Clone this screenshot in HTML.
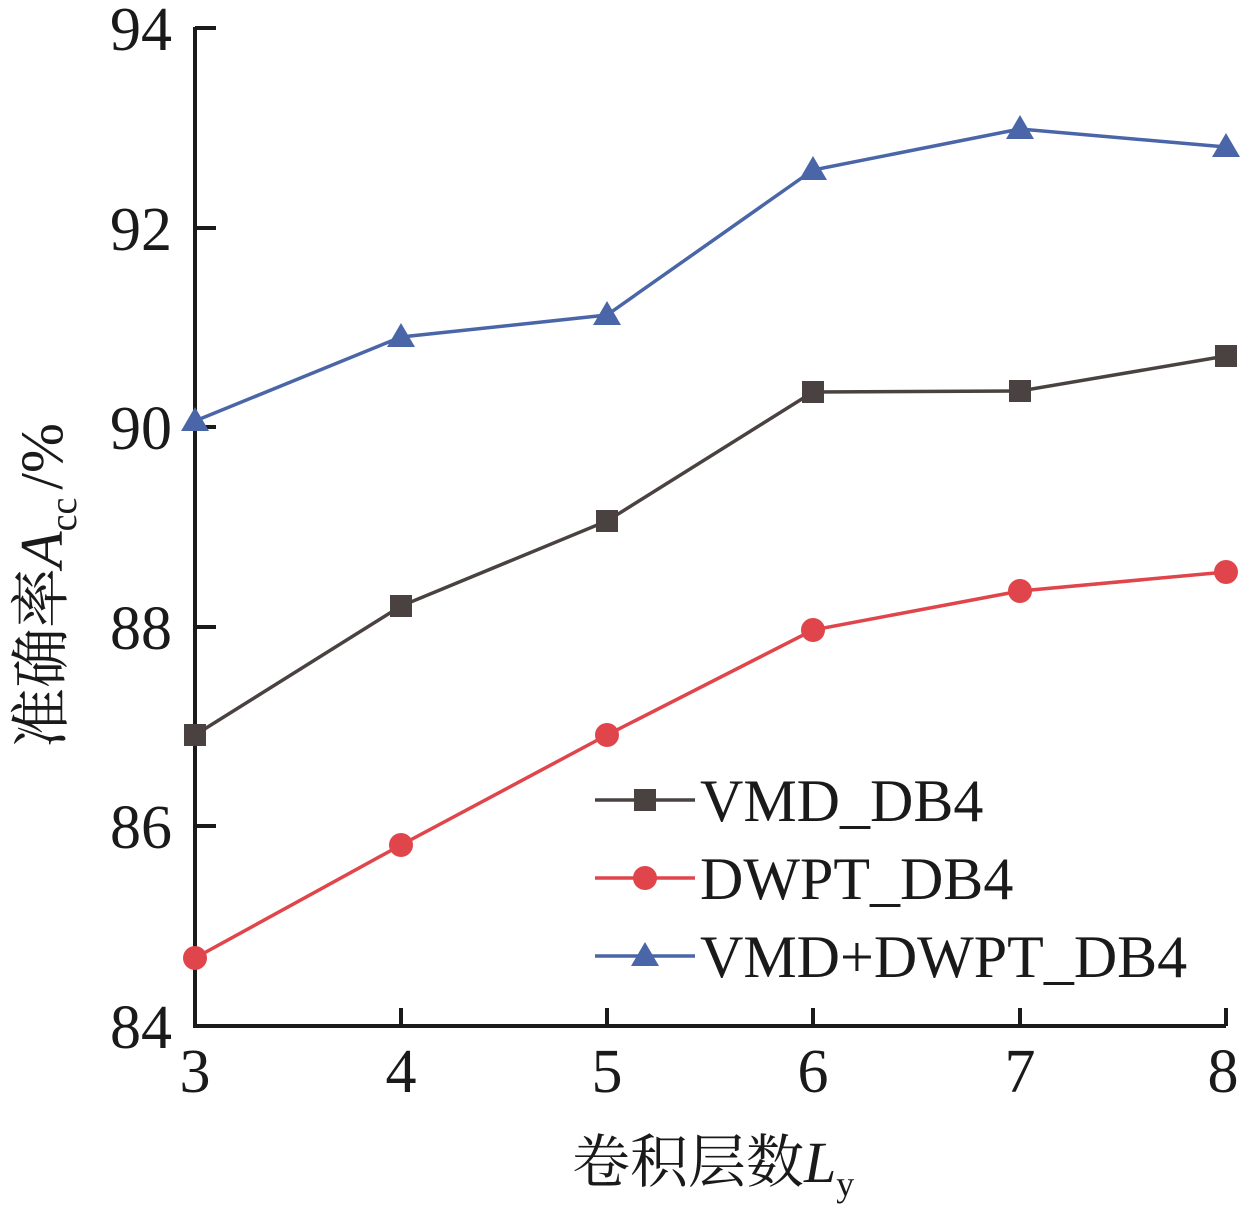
<!DOCTYPE html>
<html><head><meta charset="utf-8"><style>body{margin:0;background:#fff}</style></head><body>
<svg width="1243" height="1220" xmlns="http://www.w3.org/2000/svg" font-family="'Liberation Serif','Noto Serif CJK SC',serif">
<rect width="1243" height="1220" fill="#fff"/>
<g stroke="#1a1a1a" stroke-width="4" fill="none">
<path d="M195 27 V1026 H1226"/>
<path d="M195 28 H216 M195 228 H216 M195 427 H216 M195 627 H216 M195 826 H216"/>
<path d="M401 1026 V1008 M607 1026 V1008 M813 1026 V1008 M1020 1026 V1008 M1226 1026 V1008"/>
</g>
<g font-size="62" fill="#1a1a1a" text-anchor="end">
<text x="172" y="50">94</text><text x="172" y="250">92</text><text x="172" y="449">90</text>
<text x="172" y="649">88</text><text x="172" y="848">86</text><text x="172" y="1048">84</text>
</g>
<g font-size="62" fill="#1a1a1a" text-anchor="middle">
<text x="195" y="1092">3</text><text x="401" y="1092">4</text><text x="607" y="1092">5</text>
<text x="813" y="1092">6</text><text x="1020" y="1092">7</text><text x="1223" y="1092">8</text>
</g>
<text x="572" y="1182" font-size="58" fill="#1a1a1a">卷积层数<tspan font-style="italic" font-family="'Liberation Serif',serif">L</tspan><tspan font-size="36" dy="14">y</tspan></text>
<text transform="translate(62,748) rotate(-90)" font-size="60" fill="#1a1a1a">准确率<tspan font-style="italic" font-family="'Liberation Serif',serif">A</tspan><tspan font-size="38" dy="14">cc</tspan><tspan dy="-14" dx="8">/%</tspan></text>
<g fill="none" stroke-width="3.5">
<polyline stroke="#4a4240" points="195,735 401,606 607,521 813,392 1020,391 1226,356"/>
<polyline stroke="#e0454b" points="195,958 401,845 607,735 813,630 1020,591 1226,572"/>
<polyline stroke="#4a66a8" points="195,421 401,337 607,315 813,170 1020,129 1226,147"/>
</g>
<g fill="#4a4240">
<rect x="184" y="724" width="22" height="22"/><rect x="390" y="595" width="22" height="22"/><rect x="596" y="510" width="22" height="22"/>
<rect x="802" y="381" width="22" height="22"/><rect x="1009" y="380" width="22" height="22"/><rect x="1215" y="345" width="22" height="22"/>
</g>
<g fill="#e0454b">
<circle cx="195" cy="958" r="12"/><circle cx="401" cy="845" r="12"/><circle cx="607" cy="735" r="12"/>
<circle cx="813" cy="630" r="12"/><circle cx="1020" cy="591" r="12"/><circle cx="1226" cy="572" r="12"/>
</g>
<g fill="#4a66a8">
<path d="M195 407 l14 24 h-28z"/><path d="M401 323 l14 24 h-28z"/><path d="M607 301 l14 24 h-28z"/>
<path d="M813 156 l14 24 h-28z"/><path d="M1020 115 l14 24 h-28z"/><path d="M1226 133 l14 24 h-28z"/>
</g>
<g stroke-width="3.5">
<line x1="595" y1="800" x2="695" y2="800" stroke="#4a4240"/><rect x="634" y="789" width="22" height="22" fill="#4a4240"/>
<line x1="595" y1="878" x2="695" y2="878" stroke="#e0454b"/><circle cx="645" cy="878" r="12" fill="#e0454b"/>
<line x1="595" y1="956" x2="695" y2="956" stroke="#4a66a8"/><path d="M645 942 l14 24 h-28z" fill="#4a66a8"/>
</g>
<g font-size="60" fill="#1a1a1a">
<text x="700" y="821">VMD_DB4</text><text x="700" y="899">DWPT_DB4</text><text x="700" y="977">VMD+DWPT_DB4</text>
</g>
</svg>
</body></html>
